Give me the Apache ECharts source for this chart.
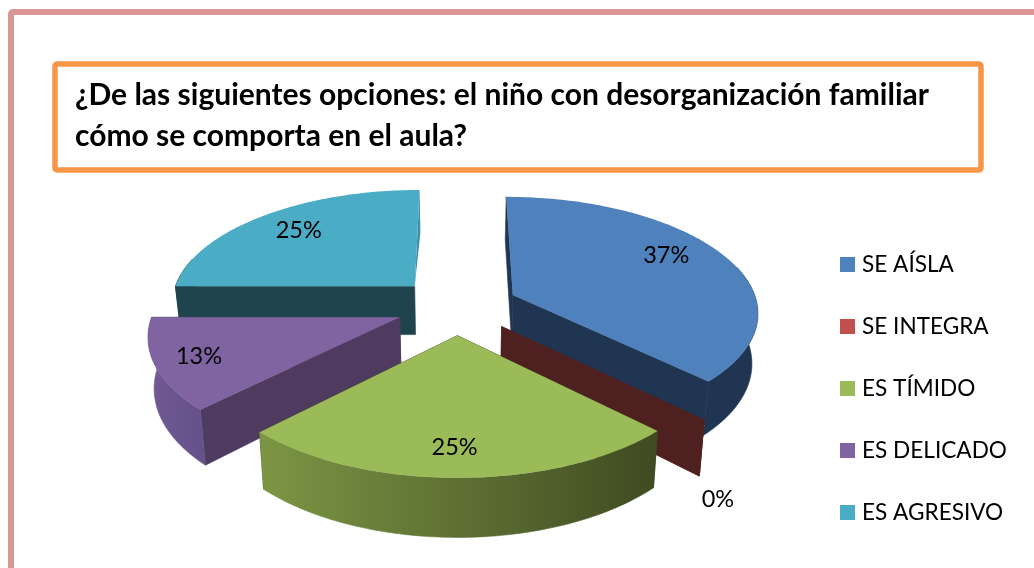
<!DOCTYPE html>
<html>
<head>
<meta charset="utf-8">
<script src="https://cdn.jsdelivr.net/npm/echarts@6/dist/echarts.min.js"></script>
<style>
html, body { margin: 0; padding: 0; background: #fff; }
#chart { width: 1034px; height: 568px; }
</style>
</head>
<body>
<div id="chart"></div>
<script>
// Datos
var titulo = '¿De las siguientes opciones: el niño con desorganización familiar\ncómo se comporta en el aula?';
var categorias = ['SE AÍSLA', 'SE INTEGRA', 'ES TÍMIDO', 'ES DELICADO', 'ES AGRESIVO'];
var valores = [37.4, 0, 25, 12.6, 25];

// Estilo de cada porcion
var colorTapa = ['#4f81bd', '#c0504d', '#9bbb59', '#8064a2', '#4bacc6'];
var colorCorte = ['#1f3552', '#4f2020', '#3f4a21', '#4f3a60', '#1f444e'];
var colorPared = [
    ['#1f3552', '#1f3552'],
    ['#4f2020', '#4f2020'],
    ['#7c9645', '#3f4a21'],
    ['#725a93', '#64508a'],
    ['#1f444e', '#1f444e']
];
var anguloEtiqueta = [60, 150, 180.7, 248, 316.5];
var radioEtiqueta = [0.785, 1.38, 0.8, 0.825, 0.775];
var ordenDibujo = [4, 0, 3, 1, 2];
var indiceAgresivo = 4;

// Proyeccion del pastel en perspectiva
var cx = 457, cy = 306, ax = 245, by = 114.3, persp = 0.135;
var grosor = 49.5, encogeBase = 0.98, explosion = 0.25;
var paredDesde = 75, paredHasta = 285; // solo la parte delantera de la pared se ve
var fuente = 'Lato, "Open Sans", sans-serif';

var total = valores.reduce(function (a, b) { return a + b; }, 0);
var inicios = [];
valores.reduce(function (acum, v, i) {
    inicios[i] = acum;
    return acum + v;
}, 0);

function proyecta(u, v, abajo) {
    var w = 1 + persp * v;
    var x = ax * u / w;
    var y = -by * v / w;
    if (abajo) {
        x = x * encogeBase;
        y = y + grosor / w;
    }
    return [cx + x, cy + y];
}

function rad(g) {
    return g * Math.PI / 180;
}

function dibujaPorcion(params, api) {
    var i = api.value(0);
    var desde = api.value(1) / total * 360;
    var hasta = desde + api.value(2) / total * 360;
    var medio = rad((desde + hasta) / 2);
    var u0 = explosion * Math.sin(medio);
    var v0 = explosion * Math.cos(medio);

    function borde(ang, abajo) {
        return proyecta(u0 + Math.sin(rad(ang)), v0 + Math.cos(rad(ang)), abajo);
    }

    var arriba = [];
    for (var a = desde; a < hasta; a += 1) {
        arriba.push(borde(a, false));
    }
    arriba.push(borde(hasta, false));

    var ini = Math.max(desde, paredDesde);
    var fin = Math.min(hasta, paredHasta);
    var paredA = [], paredB = [];
    for (var b = ini; b < fin; b += 1) {
        paredA.push(borde(b, false));
        paredB.push(borde(b, true));
    }
    paredA.push(borde(fin, false));
    paredB.push(borde(fin, true));

    var centroA = proyecta(u0, v0, false);
    var centroB = proyecta(u0, v0, true);

    function corte(ang) {
        return {
            type: 'polygon',
            shape: { points: [centroA, borde(ang, false), borde(ang, true), centroB] },
            style: { fill: colorCorte[i], stroke: colorCorte[i], lineWidth: 0.6 }
        };
    }

    var hijos = [corte(desde)];
    if (i === indiceAgresivo) {
        // la cara fina de la derecha apenas se ve, y en un tono medio
        hijos.push({
            type: 'polygon',
            shape: { points: [centroA, borde(hasta, false), borde(hasta, true)] },
            style: { fill: '#3f8fa5' }
        });
    } else {
        hijos.push(corte(hasta));
    }

    var gradiente = new echarts.graphic.LinearGradient(0, 0, 1, 0, [
        { offset: 0, color: colorPared[i][0] },
        { offset: 1, color: colorPared[i][1] }
    ]);
    hijos.push({
        type: 'polygon',
        shape: { points: paredA.concat(paredB.slice().reverse()) },
        style: { fill: gradiente, stroke: gradiente, lineWidth: 0.6 }
    });
    hijos.push({
        type: 'polygon',
        shape: { points: [centroA].concat(arriba) },
        style: { fill: colorTapa[i] }
    });

    var la = rad(anguloEtiqueta[i]);
    var pos = proyecta(u0 + radioEtiqueta[i] * Math.sin(la), v0 + radioEtiqueta[i] * Math.cos(la), false);
    hijos.push({
        type: 'text',
        style: {
            text: Math.round(api.value(2)) + '%',
            x: pos[0],
            y: pos[1] + 1.5,
            align: 'center',
            verticalAlign: 'middle',
            fill: '#000',
            font: '23.5px ' + fuente
        }
    });
    return { type: 'group', children: hijos };
}

var series = ordenDibujo.map(function (i, n) {
    return {
        type: 'custom',
        name: categorias[i],
        coordinateSystem: 'none',
        z: 2 + n,
        silent: true,
        itemStyle: { color: colorTapa[i] },
        renderItem: dibujaPorcion,
        data: [[i, inicios[i], valores[i]]]
    };
});

var myChart = echarts.init(document.getElementById('chart'), null, { renderer: 'canvas' });

myChart.setOption({
    backgroundColor: '#fff',
    animation: false,
    title: {
        text: titulo,
        left: 75,
        top: 75,
        padding: 0,
        textStyle: {
            fontFamily: fuente,
            fontSize: 30,
            fontWeight: 'bold',
            color: '#000',
            lineHeight: 41
        }
    },
    legend: {
        orient: 'vertical',
        left: 840,
        top: 253,
        padding: 0,
        itemWidth: 15,
        itemHeight: 15,
        itemGap: 39,
        icon: 'rect',
        selectedMode: false,
        data: categorias,
        textStyle: {
            fontFamily: fuente,
            fontSize: 22.6,
            color: '#000',
            padding: [0, 0, 0, 2]
        }
    },
    graphic: [
        {
            type: 'rect',
            z: 0,
            shape: { x: 11, y: 12, width: 1200, height: 800, r: 2 },
            style: { fill: '#fff', stroke: '#d99694', lineWidth: 6 }
        },
        {
            type: 'rect',
            z: 0,
            shape: { x: 55, y: 64, width: 926, height: 106, r: 2 },
            style: { fill: '#fff', stroke: '#f79646', lineWidth: 5.5 }
        }
    ],
    series: series
});
</script>
</body>
</html>
